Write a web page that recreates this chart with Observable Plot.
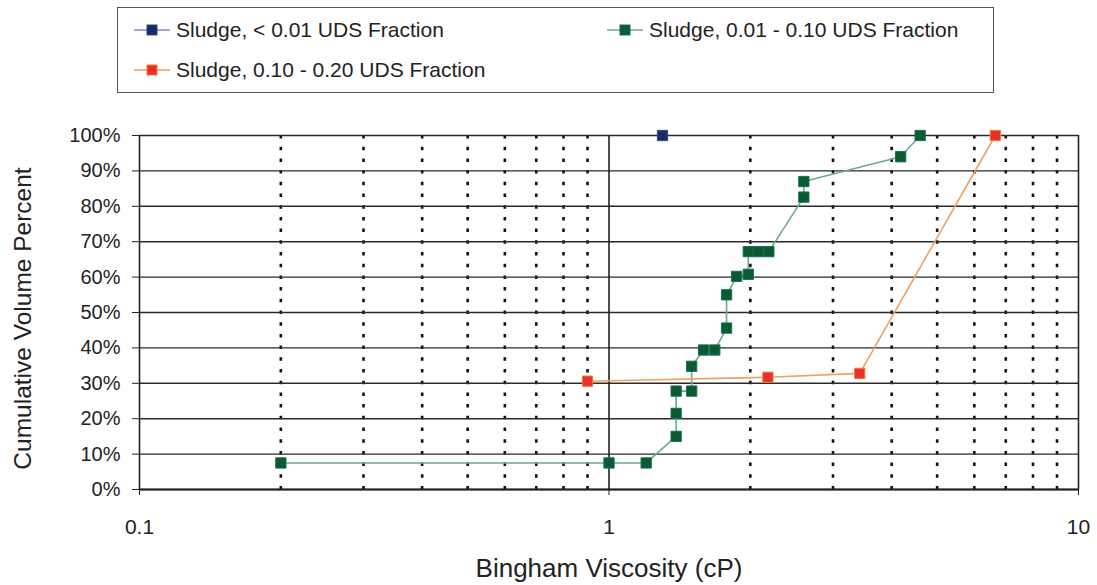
<!DOCTYPE html>
<html>
<head>
<meta charset="utf-8">
<script src="https://cdn.jsdelivr.net/npm/d3@7"></script>
<script src="https://cdn.jsdelivr.net/npm/@observablehq/plot@0.6"></script>
<style>
  html, body { margin: 0; padding: 0; background: #fff; }
  body { width: 1097px; height: 585px; overflow: hidden; font-family: "Liberation Sans", Arial, sans-serif; color: #222; }
  #top { position: relative; height: 100px; }
  #legend { position: absolute; left: 117px; top: 7px; width: 877px; height: 86px; border: 1.5px solid #555; box-sizing: border-box; }
  .item { position: absolute; display: flex; align-items: center; font-size: 21px; white-space: nowrap; }
  .item svg { margin-right: 4px; }
  #chart svg { display: block; }
</style>
</head>
<body>
<div id="top"><div id="legend"></div></div>
<div id="chart"></div>
<script>
// ---- data ----
const seriesNames = [
  "Sludge, < 0.01 UDS Fraction",
  "Sludge, 0.01 - 0.10 UDS Fraction",
  "Sludge, 0.10 - 0.20 UDS Fraction"
];
const lowVisc = [1.3];
const lowCum  = [100];
const midVisc = [0.2, 1.0, 1.2, 1.39, 1.39, 1.39, 1.5, 1.5, 1.59, 1.68, 1.78, 1.78, 1.87, 1.98, 1.98, 2.08, 2.19, 2.6, 2.6, 4.18, 4.6];
const midCum  = [7.5, 7.5, 7.5, 15, 21.5, 27.8, 27.8, 34.8, 39.4, 39.4, 45.6, 55, 60.2, 60.8, 67.2, 67.2, 67.2, 82.6, 87, 94, 100];
const highVisc = [0.9, 2.18, 3.42, 6.65];
const highCum  = [30.6, 31.7, 32.8, 100];

const xTicks = [0.1, 1, 10];
const xTickLabels = ["0.1", "1", "10"];
const xMinor = [0.2, 0.3, 0.4, 0.5, 0.6, 0.7, 0.8, 0.9, 2, 3, 4, 5, 6, 7, 8, 9];
const yTicks = [0, 10, 20, 30, 40, 50, 60, 70, 80, 90, 100];
const yTickLabels = ["0%", "10%", "20%", "30%", "40%", "50%", "60%", "70%", "80%", "90%", "100%"];
const xTitle = "Bingham Viscosity (cP)";
const yTitle = "Cumulative Volume Percent";

// ---- styling ----
const markerFill   = ["#1c2868", "#0c5a30", "#e8302c"];
const markerStroke = ["#2a4f8a", "#17705a", "#f07a30"];
const lineColor    = ["#9a7fc0", "#6ea894", "#f0a060"];

const seriesData = [
  lowVisc.map((v, i) => ({x: v, y: lowCum[i]})),
  midVisc.map((v, i) => ({x: v, y: midCum[i]})),
  highVisc.map((v, i) => ({x: v, y: highCum[i]}))
];

const marks = [
  Plot.ruleX(xMinor, {stroke: "#111", strokeWidth: 2.6, strokeDasharray: "3.5,8.2"}),
  Plot.ruleY(yTicks, {stroke: "#2a2a2a", strokeWidth: 1.4}),
  Plot.ruleX(xTicks, {stroke: "#222", strokeWidth: 1.6}),
  Plot.ruleY([0], {stroke: "#222", strokeWidth: 2}),
  Plot.axisX({ticks: xTicks, tickFormat: d => xTickLabels[xTicks.indexOf(d)], tickSize: 6, tickPadding: 24, fontSize: 21, label: null, stroke: "#222"}),
  Plot.axisY({ticks: yTicks, tickFormat: d => yTickLabels[yTicks.indexOf(d)], tickSize: 7, tickPadding: 12, fontSize: 20, label: null, stroke: "#222"}),
  Plot.text([xTitle], {frameAnchor: "bottom", dy: 79, fontSize: 26, fill: "#222", textAnchor: "middle", lineAnchor: "middle"}),
  Plot.text([yTitle], {frameAnchor: "left", dx: -116, dy: 6, rotate: -90, fontSize: 24.5, fill: "#222", textAnchor: "middle", lineAnchor: "middle"})
];
seriesData.forEach((d, k) => {
  marks.push(Plot.line(d, {x: "x", y: "y", stroke: lineColor[k], strokeWidth: 1.6}));
});
seriesData.forEach((d, k) => {
  marks.push(Plot.dot(d, {x: "x", y: "y", symbol: "square", r: 5.8, fill: markerFill[k], stroke: markerStroke[k], strokeWidth: 1}));
});

const chart = Plot.plot({
  width: 1097,
  height: 485,
  marginTop: 35,
  marginBottom: 96,
  marginLeft: 139,
  marginRight: 19,
  x: {type: "log", domain: [0.1, 10]},
  y: {domain: [0, 100]},
  style: {fontFamily: "'Liberation Sans', Arial, sans-serif", fontSize: "20px", color: "#222", background: "#fff"},
  marks
});
document.getElementById("chart").appendChild(chart);

// ---- legend ----
const legendPos = [[14, 10], [487, 10], [14, 50]];
const legend = document.getElementById("legend");
seriesNames.forEach((name, k) => {
  const div = document.createElement("div");
  div.className = "item";
  div.style.left = legendPos[k][0] + "px";
  div.style.top = legendPos[k][1] + "px";
  div.innerHTML =
    `<svg width="40" height="24"><line x1="2" x2="38" y1="12" y2="12" stroke="${lineColor[k]}" stroke-width="1.5"/>` +
    `<rect x="15" y="7" width="10" height="10" fill="${markerFill[k]}" stroke="${markerStroke[k]}" stroke-width="1"/></svg>` +
    `<span>${name}</span>`;
  legend.appendChild(div);
});
</script>
</body>
</html>
